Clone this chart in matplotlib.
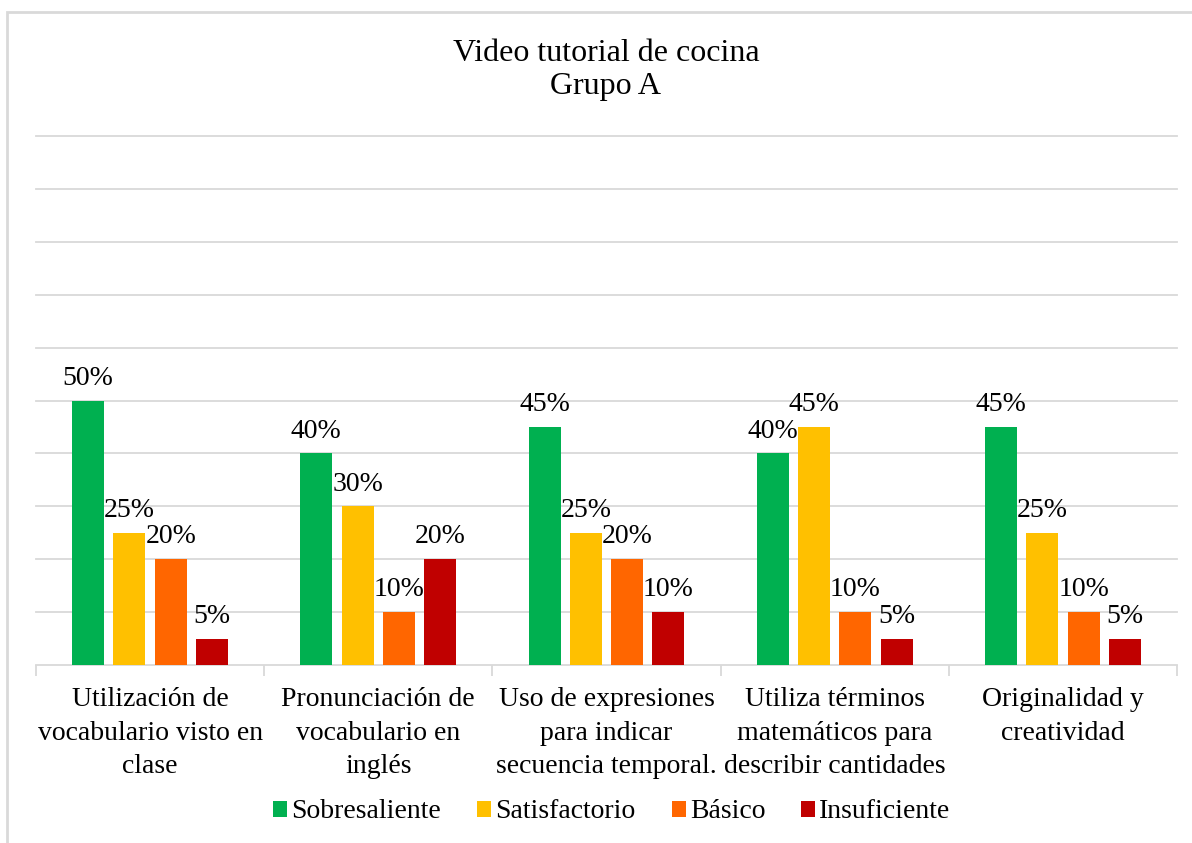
import matplotlib
matplotlib.use("Agg")
import matplotlib.pyplot as plt
import numpy as np
from matplotlib.patches import Rectangle

plt.rcParams['font.family'] = ['Liberation Serif', 'DejaVu Serif']

categorias = ["Utilización de\nvocabulario visto en\nclase",
              "Pronunciación de\nvocabulario en\ninglés",
              "Uso de expresiones\npara indicar\nsecuencia temporal.",
              "Utiliza términos\nmatemáticos para\ndescribir cantidades",
              "Originalidad y\ncreatividad"]
series = ["Sobresaliente", "Satisfactorio", "Básico", "Insuficiente"]
sobresaliente = [50, 40, 45, 40, 45]
satisfactorio = [25, 30, 25, 45, 25]
basico = [20, 10, 20, 10, 10]
insuficiente = [5, 20, 10, 5, 5]
colores = ["#00B050", "#FFC000", "#FF6600", "#C00000"]

valores = [sobresaliente, satisfactorio, basico, insuficiente]

fig = plt.figure(figsize=(11.92, 8.43), dpi=100)
ax = fig.add_axes([36 / 1192, 1 - 665 / 843, (1177 - 36) / 1192, (665 - 136) / 843])

ind = np.arange(len(categorias))
paso = 0.181
ancho = 0.14
for k, (vals, nombre, c) in enumerate(zip(valores, series, colores)):
    x = ind + (k - 1.5) * paso
    ax.bar(x, vals, ancho, color=c, label=nombre, zorder=3)
    for xi, v in zip(x, vals):
        ax.annotate("%d%%" % v, (xi, v), xytext=(0, 7), textcoords="offset points",
                    ha="center", va="bottom", fontsize=20, zorder=4)

ax.set_xlim(-0.5, len(categorias) - 0.5)
ax.set_ylim(0, 100)
ax.set_yticks(np.arange(10, 101, 10))
ax.yaxis.grid(True, color="#D9D9D9", linewidth=1.3, zorder=0)
for g in ax.get_ygridlines():
    g.set_clip_on(False)
ax.tick_params(axis="y", length=0, labelleft=False)

ax.set_xticks(ind)
ax.set_xticklabels(categorias, fontsize=20, linespacing=1.45)
ax.set_xticks(np.arange(-0.5, len(categorias), 1), minor=True)
ax.tick_params(axis="x", which="major", length=0, pad=16)
ax.tick_params(axis="x", which="minor", length=8, color="#D9D9D9", width=1.3)

for s in ["top", "right", "left"]:
    ax.spines[s].set_visible(False)
ax.spines["bottom"].set_color("#D9D9D9")
ax.spines["bottom"].set_linewidth(1.3)

fig.text(606 / 1192, 1 - 70 / 843, "Video tutorial de cocina\nGrupo A", ha="center", va="center",
         fontsize=23, linespacing=1.2)

fig.legend(loc="center", bbox_to_anchor=(612 / 1192, 1 - 812 / 843), ncol=4, frameon=False,
           fontsize=20, handlelength=0.5, handleheight=0.5, handletextpad=0.15, columnspacing=1.3)

# borde del grafico
fig.patches.append(Rectangle((7 / 1192, -0.1), 1.2, 1 - 12 / 843 + 0.1, transform=fig.transFigure,
                             fill=False, edgecolor="#D9D9D9", linewidth=2))

fig.savefig("out.png", dpi=100)
